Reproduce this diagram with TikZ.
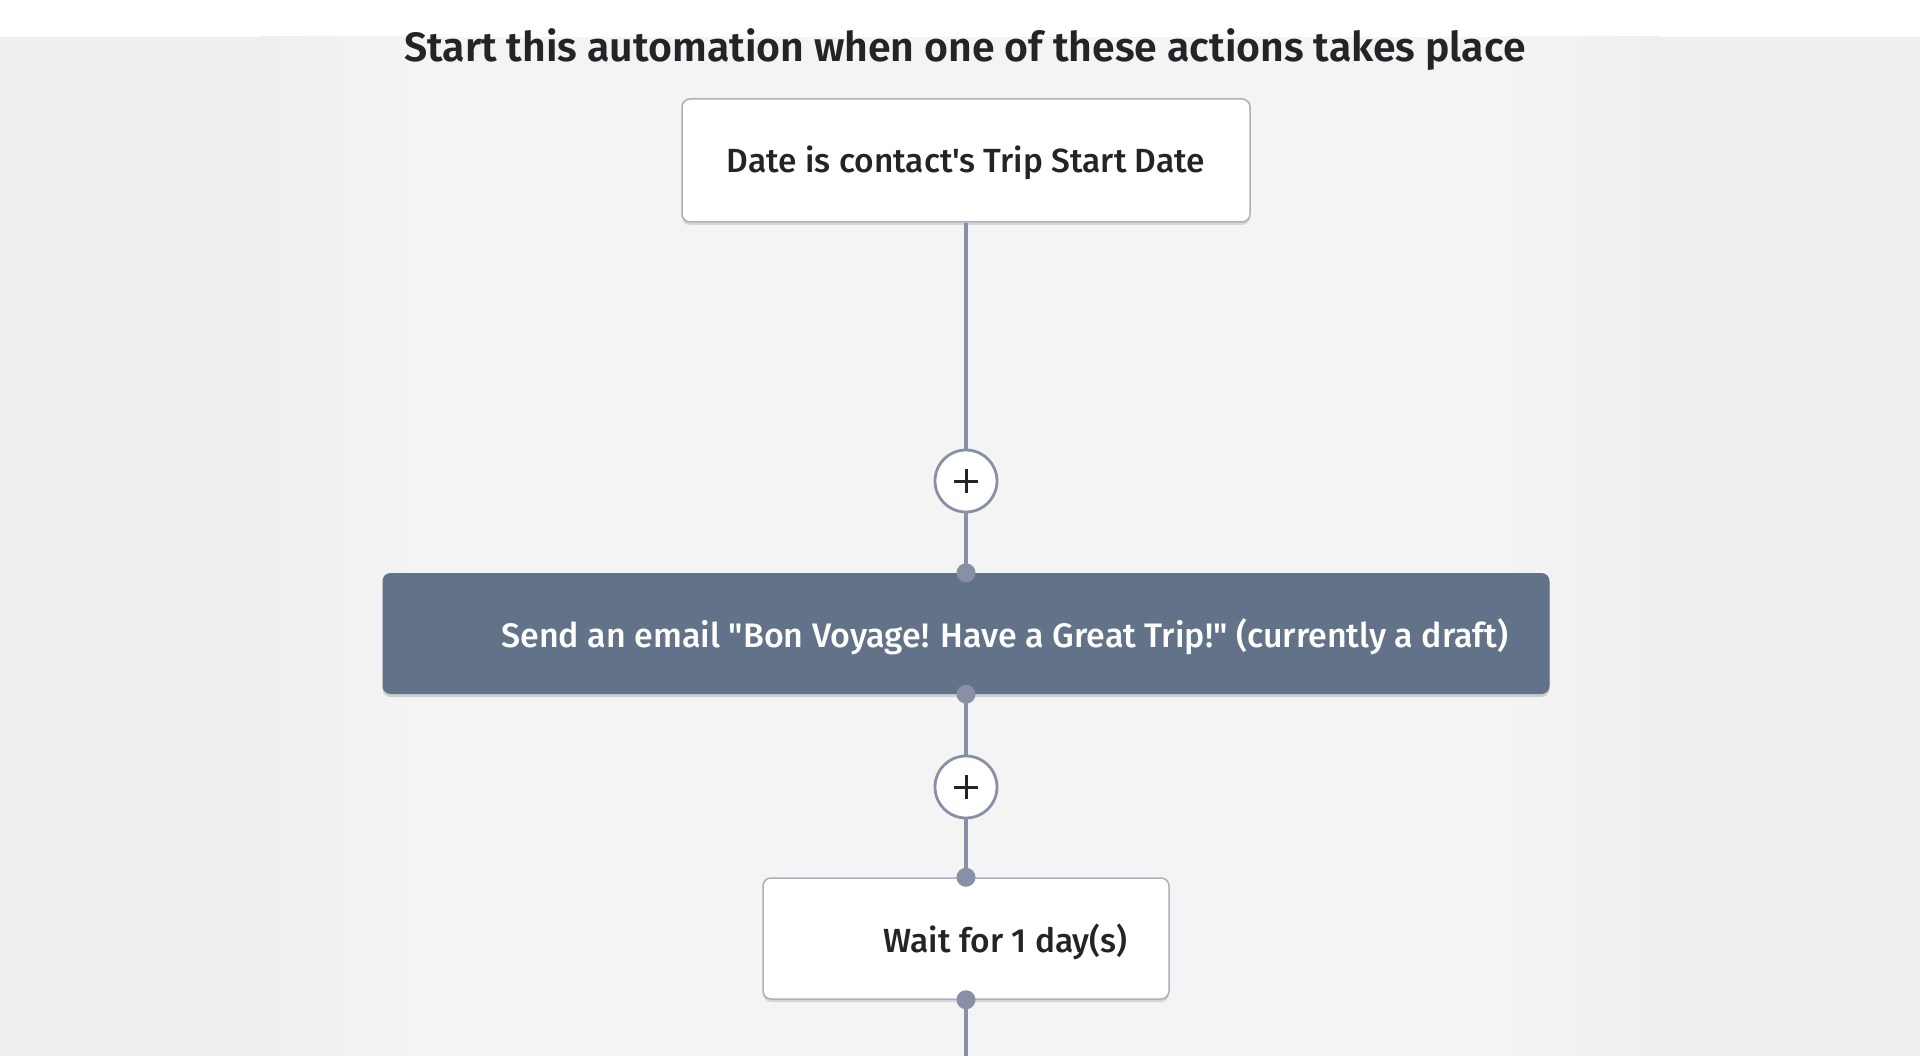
\documentclass[tikz,border=0pt]{standalone}
\usepackage{fontspec}
\setmainfont{Fira Sans}[BoldFont={Fira Sans SemiBold}]
\newfontfamily\medfont{Fira Sans Medium}
\usetikzlibrary{shadows}
\definecolor{bgc}{HTML}{EFEFEF}
\definecolor{bgl}{HTML}{F4F4F5}
\definecolor{conn}{HTML}{8890A6}
\definecolor{navy}{HTML}{627389}
\definecolor{boxline}{HTML}{A9B0BF}
\definecolor{ink}{HTML}{222428}
\newcommand{\dq}{\char"22\relax}
\newcommand{\sq}{\char"27\relax}
\begin{document}
\begin{tikzpicture}[x=1pt,y=-1pt,
  whitebox/.style={draw=boxline, line width=1.5pt, fill=white, rounded corners=8pt,
     drop shadow={shadow xshift=0pt, shadow yshift=-3pt, opacity=0.12, fill=black}},
  navybox/.style={fill=navy, rounded corners=8pt,
     drop shadow={shadow xshift=0pt, shadow yshift=-3pt, opacity=0.15, fill=black}},
  plusc/.style={circle, draw=conn, line width=2.8pt, fill=white, minimum size=62pt, inner sep=0pt},
  connline/.style={draw=conn, line width=3.5pt},
  dot/.style={fill=conn},
  boxtext/.style={text=ink, font=\medfont\fontsize{33.5}{40}\selectfont},
]
\useasboundingbox (0,0) rectangle (1920,1056);
\fill[white] (0,0) rectangle (1920,37);
\fill[bgc] (0,37) rectangle (1920,1056);
\shade[left color=bgc, right color=bgl] (260,37) rectangle (420,1056);
\fill[bgl] (419,37) rectangle (1501,1056);
\shade[left color=bgl, right color=bgc] (1500,37) rectangle (1660,1056);

\node[font=\bfseries\fontsize{41}{48}\selectfont, text=ink] (title) at (965,50)
  {Start this automation when one of these actions takes place};

\node[whitebox, minimum width=568pt, minimum height=123pt] (trigger) at (966,160.5) {};
\node[boxtext] (triggertext) at (966,163) {Date is contact\sq s Trip Start Date};

\node[plusc] (plus1) at (966,481) {};
\node[navybox, minimum width=1167pt, minimum height=121pt] (email) at (966,633.5) {};
\node[text=white, font=\medfont\fontsize{34}{40}\selectfont] (emailtext) at (1005,636.5)
  {Send an email \dq Bon Voyage! Have a Great Trip!\dq{} (currently a draft)};

\node[plusc] (plus2) at (966,787) {};
\node[whitebox, minimum width=406pt, minimum height=121pt] (wait) at (966,938.5) {};
\node[boxtext] (waittext) at (1005.5,941.5) {Wait for 1 day(s)};

\coordinate (bottom) at (966,1056);

\draw[connline] (trigger.south) -- (plus1.north);
\draw[connline] (plus1.south) -- (email.north);
\draw[connline] (email.south) -- (plus2.north);
\draw[connline] (plus2.south) -- (wait.north);
\draw[connline] (wait.south) -- (bottom);

\foreach \p in {plus1, plus2} {
  \draw[ink, line width=3pt] ([xshift=-12pt]\p.center) -- ([xshift=12pt]\p.center);
  \draw[ink, line width=3pt] ([yshift=-12pt]\p.center) -- ([yshift=12pt]\p.center);
}
\foreach \d in {email.north, email.south, wait.north, wait.south} {
  \fill[dot] (\d) circle (9.5pt);
}
\end{tikzpicture}
\end{document}
